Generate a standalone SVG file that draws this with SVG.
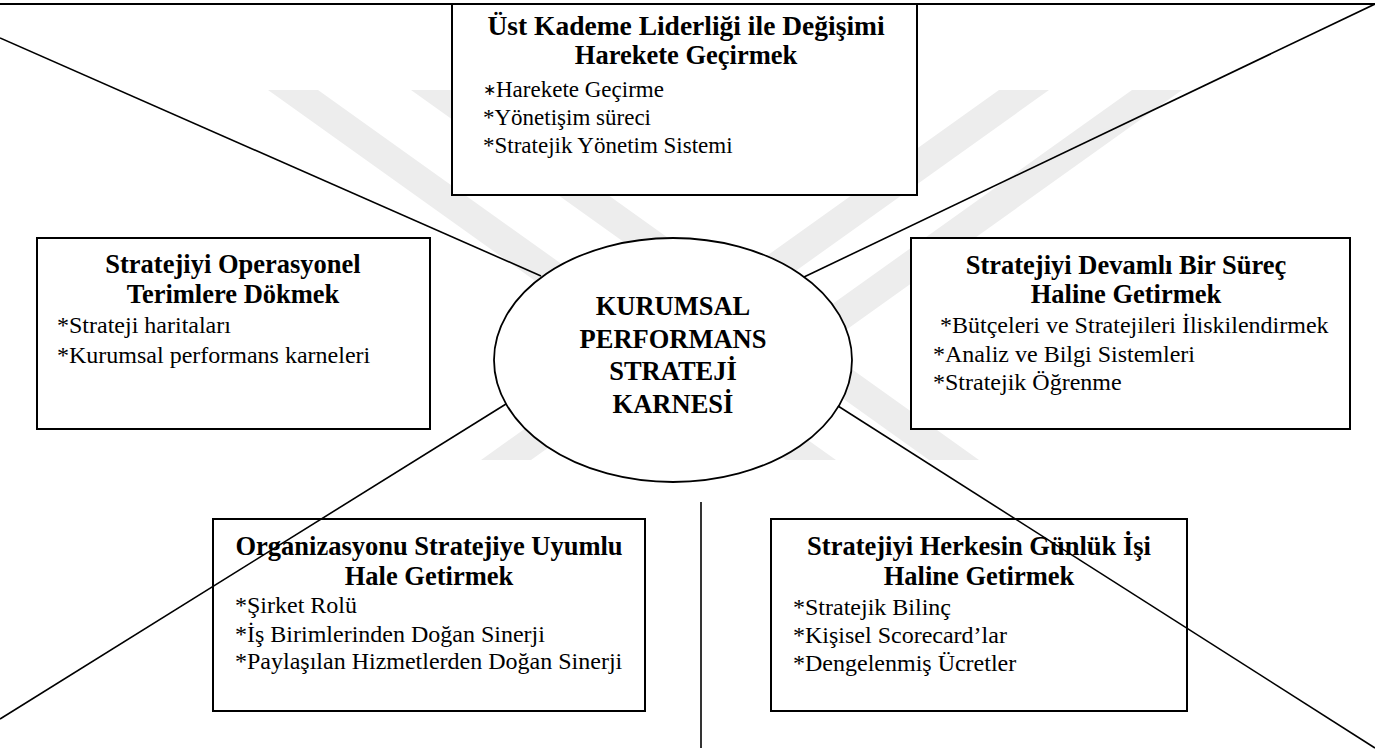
<svg xmlns="http://www.w3.org/2000/svg" width="1375" height="755" viewBox="0 0 1375 755">
  <style>
    .box { fill: #ffffff; stroke: #000000; stroke-width: 2; }
    .hub { fill: #ffffff; stroke: #000000; stroke-width: 1.8; }
    .link { stroke: #000000; stroke-width: 1.6; fill: none; }
    .mark { fill: #ededed; }
    text { font-family: "Liberation Serif", "Times New Roman", serif; fill: #000000; }
    .title { font-size: 26.5px; font-weight: bold; text-anchor: middle; }
    .title-lg { font-size: 27.5px; font-weight: bold; text-anchor: middle; }
    .item { font-size: 24px; }
    .item-sm { font-size: 23px; }
    .hub-text { font-size: 26.5px; font-weight: bold; text-anchor: middle; }
  </style>

  <rect x="0" y="0" width="1375" height="755" fill="#ffffff"/>

  <!-- faint background emblem: crossing diagonal bands, covered by the white boxes -->
  <g id="watermark">
    <polygon class="mark" points="268,90 318,90 836,460 786,460"/>
    <polygon class="mark" points="411,90 461,90 979,460 929,460"/>
    <polygon class="mark" points="1132,90 1182,90 664,460 614,460"/>
    <polygon class="mark" points="999,90 1049,90 531,460 481,460"/>
  </g>

  <!-- top frame line -->
  <line x1="0" y1="4" x2="1375" y2="4" stroke="#000000" stroke-width="2.2"/>

  <g id="node-leadership">
    <rect class="box" x="452" y="4" width="465" height="191"/>
    <text class="title-lg" x="686" y="35">Üst Kademe Liderliği ile Değişimi</text>
    <text class="title" x="686" y="64">Harekete Geçirmek</text>
    <text class="item-sm" x="483" y="97"><tspan font-size="16" dy="-2">∗</tspan><tspan dy="2">Harekete Geçirme</tspan></text>
    <text class="item-sm" x="483" y="125">*Yönetişim süreci</text>
    <text class="item-sm" x="483" y="153">*Stratejik Yönetim Sistemi</text>
  </g>

  <g id="node-translate">
    <rect class="box" x="37" y="238" width="393" height="191"/>
    <text class="title" x="233" y="273">Stratejiyi Operasyonel</text>
    <text class="title" x="233" y="303">Terimlere Dökmek</text>
    <text class="item" x="57" y="333">*Strateji haritaları</text>
    <text class="item" x="57" y="363">*Kurumsal performans karneleri</text>
  </g>

  <g id="node-continuous">
    <rect class="box" x="911" y="238" width="439" height="191"/>
    <text class="title" x="1126" y="274">Stratejiyi Devamlı Bir Süreç</text>
    <text class="title" x="1126" y="303">Haline Getirmek</text>
    <text class="item" x="940" y="333">*Bütçeleri ve Stratejileri İliskilendirmek</text>
    <text class="item" x="933" y="362">*Analiz ve Bilgi Sistemleri</text>
    <text class="item" x="933" y="390">*Stratejik Öğrenme</text>
  </g>

  <g id="node-align">
    <rect class="box" x="213" y="519" width="432" height="192"/>
    <text class="title" x="429" y="555">Organizasyonu Stratejiye Uyumlu</text>
    <text class="title" x="429" y="585">Hale Getirmek</text>
    <text class="item" x="235" y="613">*Şirket Rolü</text>
    <text class="item" x="235" y="642">*İş Birimlerinden Doğan Sinerji</text>
    <text class="item" x="235" y="669">*Paylaşılan Hizmetlerden Doğan Sinerji</text>
  </g>

  <g id="node-everyday">
    <rect class="box" x="771" y="519" width="416" height="192"/>
    <text class="title" x="979" y="555">Stratejiyi Herkesin Günlük İşi</text>
    <text class="title" x="979" y="585">Haline Getirmek</text>
    <text class="item" x="793" y="615">*Stratejik Bilinç</text>
    <text class="item" x="793" y="643">*Kişisel Scorecard’lar</text>
    <text class="item" x="793" y="671">*Dengelenmiş Ücretler</text>
  </g>

  <g id="node-hub">
    <ellipse class="hub" cx="673" cy="360" rx="179" ry="122"/>
    <text class="hub-text" x="673" y="315">KURUMSAL</text>
    <text class="hub-text" x="673" y="348">PERFORMANS</text>
    <text class="hub-text" x="673" y="380">STRATEJİ</text>
    <text class="hub-text" x="673" y="413">KARNESİ</text>
  </g>

  <g id="connectors">
    <line class="link" x1="0" y1="38" x2="541" y2="276"/>
    <line class="link" x1="1375" y1="4" x2="804" y2="277"/>
    <line class="link" x1="506" y1="404" x2="0" y2="719"/>
    <line class="link" x1="838" y1="406" x2="1375" y2="748"/>
    <line class="link" x1="701" y1="502" x2="701" y2="748"/>
  </g>
</svg>
